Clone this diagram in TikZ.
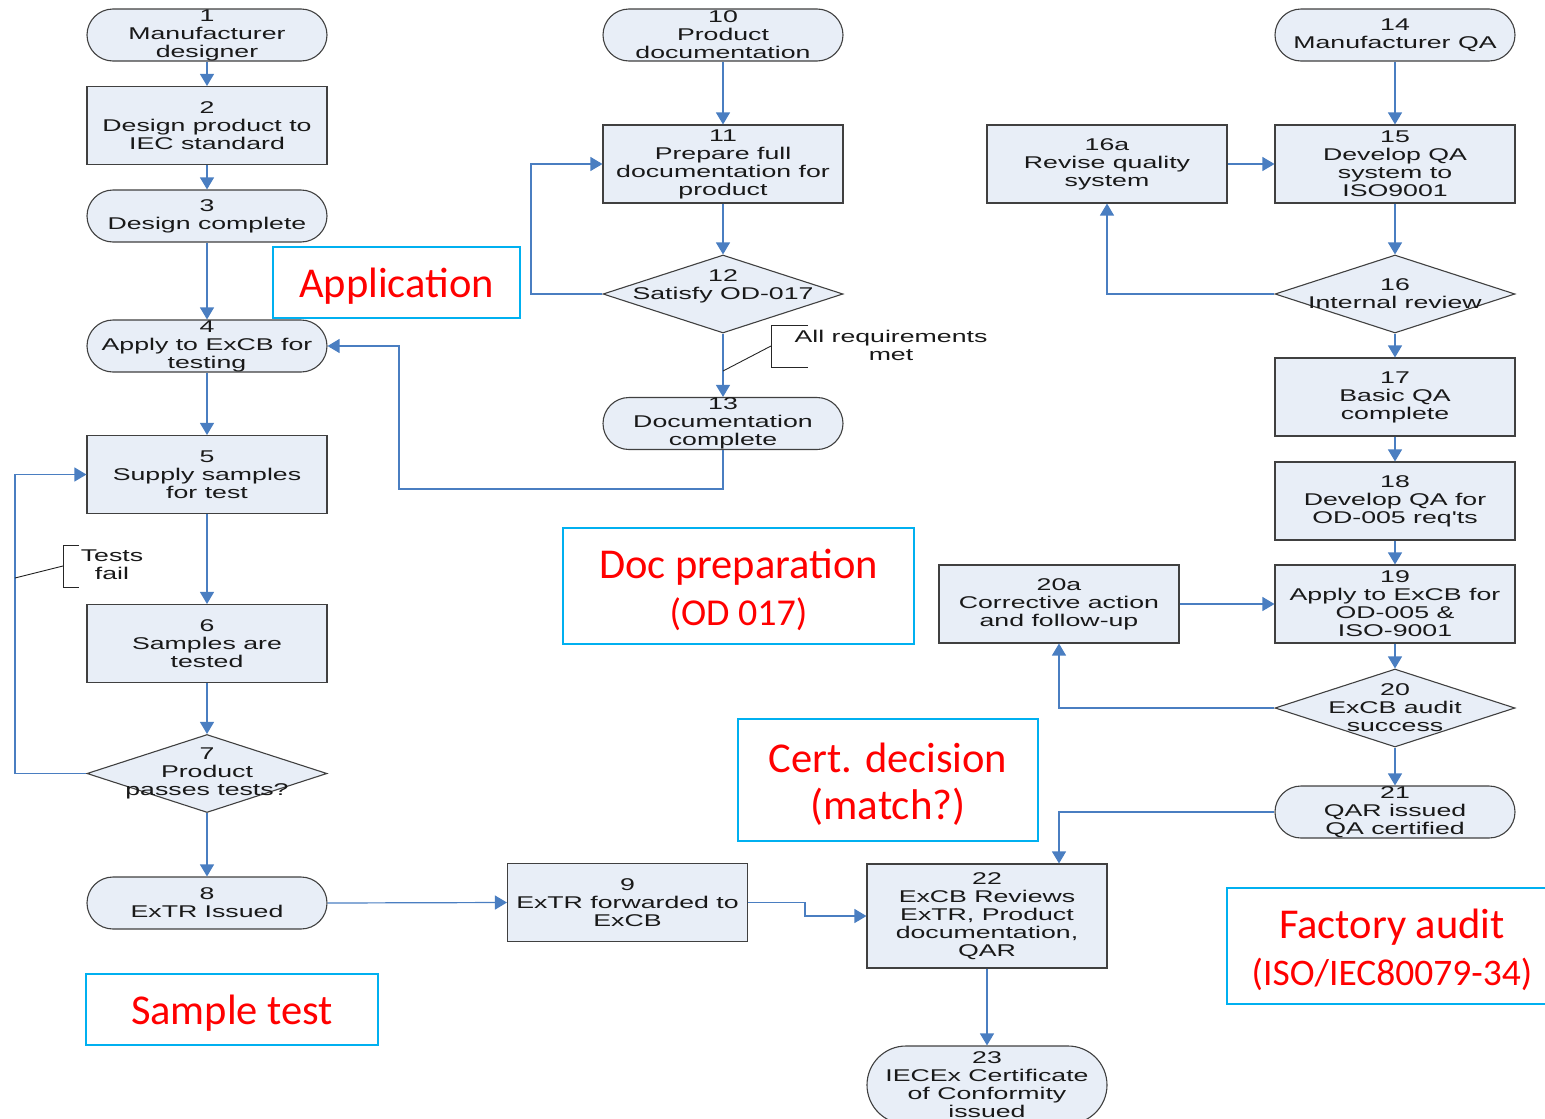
\documentclass[tikz,border=0pt]{standalone}
\usepackage{fontspec}
\usepackage{xcolor}
\usepackage{tikz}
\usetikzlibrary{shapes,arrows,positioning,calc,arrows.meta}
\newfontfamily\flowfont[FakeStretch=1.57]{Liberation Sans}
\newfontfamily\tagfont{Carlito}
\definecolor{boxfill}{RGB}{232,238,247}
\definecolor{flowblue}{RGB}{74,126,193}
\definecolor{tagblue}{RGB}{0,176,240}

\begin{document}
\begin{tikzpicture}[x=1pt,y=-1pt,
    txt/.style={align=center, inner sep=0pt, text=black!90, font=\flowfont\fontsize{17}{18}\selectfont},
    shp/.style={draw=black!75, line width=1.1pt, fill=boxfill, inner sep=0pt, minimum width=240pt},
    box/.style={shp, rectangle, minimum height=78pt, label={[txt]center:#1}},
    term/.style={shp, rounded rectangle, minimum height=52pt, label={[txt]center:#1}},
    dec/.style={shp, diamond, minimum height=78pt, label={[txt]center:#1}},
    flow/.style={draw=flowblue, line width=1.2pt, -{Triangle[width=14pt,length=12pt]}},
    note/.style={draw=black!85, line width=0.9pt},
    tagtxt/.style={text=red, align=center, inner sep=0pt, yshift=-4pt, font=\tagfont\fontsize{42.5}{47}\selectfont},
    tag/.style={draw=tagblue, line width=2pt, inner sep=0pt, label={[tagtxt]center:#1}}]
    \useasboundingbox (0,0) rectangle (1545,1119);

    % sample test column
    \node[term={1\\Manufacturer\\designer}] (n1) at (207,35) {};
    \node[box={2\\Design product to\\IEC standard}] (n2) at (207,125.5) {};
    \node[term={3\\Design complete}] (n3) at (207,216) {};
    \node[term={4\\Apply to ExCB for\\testing}] (n4) at (207,346) {};
    \node[box={5\\Supply samples\\for test}] (n5) at (207,474.5) {};
    \node[box={6\\Samples are\\tested}] (n6) at (207,643.5) {};
    \node[dec={7\\Product\\passes tests?}] (n7) at (207,773.5) {};
    \node[term={8\\ExTR Issued}] (n8) at (207,903) {};
    \node[box={9\\ExTR forwarded to\\ExCB}] (n9) at (627.5,902.5) {};

    % documentation column
    \node[term={10\\Product\\documentation}] (n10) at (723,35) {};
    \node[box={11\\Prepare full\\documentation for\\product}] (n11) at (723,164) {};
    \node[shp, diamond, minimum height=78pt, label={[txt, yshift=8pt]center:12\\Satisfy OD-017}] (n12) at (723,294) {};
    \node[term={13\\Documentation\\complete}] (n13) at (723,423.5) {};

    % QA column
    \node[term={14\\Manufacturer QA}] (n14) at (1395,35) {};
    \node[box={15\\Develop QA\\system to\\ISO9001}] (n15) at (1395,164) {};
    \node[box={16a\\Revise quality\\system}] (n16a) at (1107,164) {};
    \node[dec={16\\Internal review}] (n16) at (1395,294) {};
    \node[box={17\\Basic QA\\complete}] (n17) at (1395,397) {};
    \node[box={18\\Develop QA for\\OD-005 req'ts}] (n18) at (1395,501) {};
    \node[box={19\\Apply to ExCB for\\OD-005 \&\\ISO-9001}] (n19) at (1395,604) {};
    \node[box={20a\\Corrective action\\and follow-up}] (n20a) at (1059,604) {};
    \node[dec={20\\ExCB audit\\success}] (n20) at (1395,708) {};
    \node[term={21\\QAR issued\\QA certified}] (n21) at (1395,812) {};

    % certification
    \node[box={22\\ExCB Reviews\\ExTR, Product\\documentation,\\QAR}, minimum height=104pt] (n22) at (987,916) {};
    \node[term={23\\IECEx Certificate\\of Conformity\\issued}, minimum height=78pt] (n23) at (987,1085) {};

    % connectors
    \draw[flow] (n1) -- (n2);
    \draw[flow] (n2) -- (n3);
    \draw[flow] (n3) -- (n4);
    \draw[flow] (n4) -- (n5);
    \draw[flow] (n5) -- (n6);
    \draw[flow] (n6) -- (n7);
    \draw[flow] (n7) -- (n8);
    \draw[flow] (n7.west) -- (15,773.5) |- (n5.west);
    \draw[flow] (n8.east) -- (n9.west);
    \draw[flow] (n9.east) -- (805,902.5) |- (n22.west);
    \draw[flow] (n10) -- (n11);
    \draw[flow] (n11) -- (n12);
    \draw[flow] (n12) -- (n13);
    \draw[flow] (n12.west) -- (531,294) |- (n11.west);
    \draw[flow] (n13.south) |- (399,489) |- (n4.east);
    \draw[flow] (n14) -- (n15);
    \draw[flow] (n15) -- (n16);
    \draw[flow] (n16) -- (n17);
    \draw[flow] (n17) -- (n18);
    \draw[flow] (n18) -- (n19);
    \draw[flow] (n19) -- (n20);
    \draw[flow] (n20) -- (n21);
    \draw[flow] (n16a) -- (n15);
    \draw[flow] (n16.west) -| (n16a.south);
    \draw[flow] (n20a) -- (n19);
    \draw[flow] (n20.west) -| (n20a.south);
    \draw[flow] (n21.west) -| ([xshift=72pt]n22.north);
    \draw[flow] (n22) -- (n23);

    % annotations
    \node[txt] (fail) at (112,565) {Tests\\fail};
    \draw[note] (79,545) -- (63,545) -- (63,587) -- (79,587);
    \draw[note] (63,566) -- (15,578);
    \node[txt] (met) at (891,345) {All requirements\\met};
    \draw[note] (808,325) -- (771,325) -- (771,367) -- (808,367);
    \draw[note] (771,346) -- (723,371);

    % phase labels
    \node[tag={Application}, minimum width=247pt, minimum height=71pt] (tapp) at (396.5,282.5) {};
    \node[tag={Doc preparation\\{\fontsize{38}{47}\selectfont(OD 017)}}, minimum width=351pt, minimum height=116pt] (tdoc) at (738.5,586) {};
    \node[tag={Cert. decision\\{\fontsize{43}{50}\selectfont(match?)}}, minimum width=300pt, minimum height=122pt] (tcert) at (888,780) {};
    \node[tag={Sample test}, minimum width=292pt, minimum height=71pt] (tsample) at (232,1009.5) {};
    \node[tag={Factory audit\\{\fontsize{37.5}{47}\selectfont(ISO/IEC80079-34)}}, minimum width=330pt, minimum height=116pt] (tfact) at (1392,946) {};
\end{tikzpicture}
\end{document}
